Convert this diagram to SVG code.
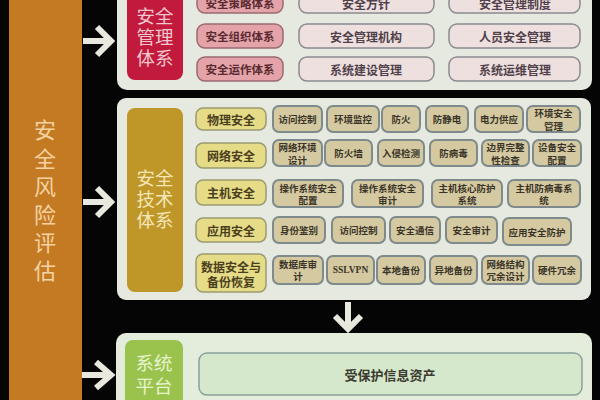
<svg xmlns="http://www.w3.org/2000/svg" width="600" height="400" viewBox="0 0 600 400">
<style>
text{font-family:"Noto Sans CJK SC","Liberation Sans",sans-serif;text-anchor:middle;dominant-baseline:central}
.panel{fill:#e6e9df}
.big{font-size:18.5px}
.sub{fill:#e3a3a8;stroke:#9a6a70;stroke-width:1.5}
.subt{font-size:11.5px;font-weight:bold;fill:#5a2a30}
.rbox{fill:#efe0e0;stroke:#8a8a90;stroke-width:1.5}
.rt{font-size:12px;font-weight:bold;fill:#50404a}
.cat{fill:#e6db86;stroke:#9a9a70;stroke-width:1.5}
.ct{font-size:12px;font-weight:bold;fill:#4a4020}
.it{fill:#d4c9a0;stroke:#7e8a8c;stroke-width:2}
.itt{font-size:9.5px;font-weight:bold;fill:#3a3428}
.arr{fill:none;stroke:#e8e8de;stroke-width:6;stroke-linecap:butt;stroke-linejoin:miter}
</style>
<rect x="0" y="0" width="600" height="400" fill="#050505"/>

<g id="risk">
<rect x="9" y="-5" width="73" height="410" fill="#c47a22"/>
<text x="45" y="119" style="writing-mode:vertical-rl;text-anchor:start;font-size:22px;letter-spacing:6.2px;fill:#f4d2a2">安全风险评估</text>
</g>

<g id="management">
<rect class="panel" x="117" y="-15" width="475" height="105" rx="10"/>
<rect x="127" y="-12" width="56" height="92" rx="8" fill="#c21a3c"/>
<text class="big" fill="#f2c8d0"><tspan x="155" y="15">安全</tspan><tspan x="155" y="36">管理</tspan><tspan x="155" y="57">体系</tspan></text>
<rect class="sub" x="197" y="-6" width="86" height="19" rx="8"/>
<text class="subt" x="240" y="3">安全策略体系</text>
<rect class="sub" x="197" y="24" width="86" height="24" rx="8"/>
<text class="subt" x="240" y="36">安全组织体系</text>
<rect class="sub" x="197" y="57" width="86" height="24" rx="8"/>
<text class="subt" x="240" y="69">安全运作体系</text>
<rect class="rbox" x="299" y="-6" width="135" height="19" rx="8"/>
<text class="rt" x="366" y="3">安全方针</text>
<rect class="rbox" x="449" y="-6" width="131" height="19" rx="8"/>
<text class="rt" x="515" y="3">安全管理制度</text>
<rect class="rbox" x="299" y="24" width="135" height="24" rx="8"/>
<text class="rt" x="366" y="36">安全管理机构</text>
<rect class="rbox" x="449" y="24" width="131" height="24" rx="8"/>
<text class="rt" x="515" y="36">人员安全管理</text>
<rect class="rbox" x="299" y="57" width="135" height="24" rx="8"/>
<text class="rt" x="366" y="69">系统建设管理</text>
<rect class="rbox" x="449" y="57" width="131" height="24" rx="8"/>
<text class="rt" x="515" y="69">系统运维管理</text>
</g>

<g id="technology">
<rect class="panel" x="117" y="98" width="474" height="202" rx="9"/>
<rect x="127" y="108" width="56" height="184" rx="8" fill="#bf9628"/>
<text class="big" fill="#f3e6b8"><tspan x="155" y="177">安全</tspan><tspan x="155" y="198">技术</tspan><tspan x="155" y="219">体系</tspan></text>

<rect class="cat" x="196" y="108" width="70" height="22" rx="7"/>
<text class="ct" x="231" y="119">物理安全</text>
<rect class="cat" x="196" y="143" width="70" height="25" rx="7"/>
<text class="ct" x="231" y="155.5">网络安全</text>
<rect class="cat" x="196" y="180" width="70" height="25" rx="7"/>
<text class="ct" x="231" y="192.5">主机安全</text>
<rect class="cat" x="196" y="218" width="70" height="24" rx="7"/>
<text class="ct" x="231" y="230">应用安全</text>
<rect class="cat" x="196" y="254" width="70" height="38" rx="7"/>
<text class="ct" x="231" y="266">数据安全与</text>
<text class="ct" x="231" y="281">备份恢复</text>

<rect class="it" x="273" y="106" width="49" height="26" rx="6"/><text class="itt" x="297.5" y="119">访问控制</text>
<rect class="it" x="327" y="106" width="52" height="26" rx="6"/><text class="itt" x="353" y="119">环境监控</text>
<rect class="it" x="382" y="106" width="38" height="26" rx="6"/><text class="itt" x="401" y="119">防火</text>
<rect class="it" x="426" y="106" width="42" height="26" rx="6"/><text class="itt" x="447" y="119">防静电</text>
<rect class="it" x="475" y="106" width="48" height="26" rx="6"/><text class="itt" x="499" y="119">电力供应</text>
<rect class="it" x="527" y="106" width="53" height="26" rx="6"/><text class="itt" x="553.5" y="113">环境安全</text><text class="itt" x="553.5" y="125.5">管理</text>

<rect class="it" x="273" y="140" width="49" height="26" rx="6"/><text class="itt" x="297.5" y="147">网络环境</text><text class="itt" x="297.5" y="159.5">设计</text>
<rect class="it" x="325" y="140" width="47" height="26" rx="6"/><text class="itt" x="348.5" y="153">防火墙</text>
<rect class="it" x="378" y="140" width="46" height="26" rx="6"/><text class="itt" x="401" y="153">入侵检测</text>
<rect class="it" x="430" y="140" width="47" height="26" rx="6"/><text class="itt" x="453.5" y="153">防病毒</text>
<rect class="it" x="482" y="140" width="47" height="26" rx="6"/><text class="itt" x="505.5" y="147">边界完整</text><text class="itt" x="505.5" y="159.5">性检查</text>
<rect class="it" x="533" y="140" width="48" height="26" rx="6"/><text class="itt" x="557" y="147">设备安全</text><text class="itt" x="557" y="159.5">配置</text>

<rect class="it" x="273" y="180" width="70" height="27" rx="6"/><text class="itt" x="308" y="187.5">操作系统安全</text><text class="itt" x="308" y="200">配置</text>
<rect class="it" x="352" y="180" width="71" height="27" rx="6"/><text class="itt" x="387.5" y="187.5">操作系统安全</text><text class="itt" x="387.5" y="200">审计</text>
<rect class="it" x="432" y="180" width="70" height="27" rx="6"/><text class="itt" x="467" y="187.5">主机核心防护</text><text class="itt" x="467" y="200">系统</text>
<rect class="it" x="508" y="180" width="72" height="27" rx="6"/><text class="itt" x="544" y="187.5">主机防病毒系</text><text class="itt" x="544" y="200">统</text>

<rect class="it" x="273" y="217" width="52" height="26" rx="6"/><text class="itt" x="299" y="230">身份鉴别</text>
<rect class="it" x="332" y="217" width="53" height="26" rx="6"/><text class="itt" x="358.5" y="230">访问控制</text>
<rect class="it" x="390" y="217" width="50" height="26" rx="6"/><text class="itt" x="415" y="230">安全通信</text>
<rect class="it" x="446" y="217" width="51" height="26" rx="6"/><text class="itt" x="471.5" y="230">安全审计</text>
<rect class="it" x="503" y="218" width="68" height="27" rx="6"/><text class="itt" x="537" y="231.5">应用安全防护</text>

<rect class="it" x="273" y="256" width="50" height="28" rx="6"/><text class="itt" x="298" y="263.5">数据库审</text><text class="itt" x="298" y="276">计</text>
<rect class="it" x="327" y="256" width="47" height="28" rx="6"/><text class="itt" x="350.5" y="270" style="font-family:'Liberation Serif',serif;font-size:9.5px">SSLVPN</text>
<rect class="it" x="377" y="256" width="48" height="28" rx="6"/><text class="itt" x="401" y="270">本地备份</text>
<rect class="it" x="430" y="256" width="47" height="28" rx="6"/><text class="itt" x="453.5" y="270">异地备份</text>
<rect class="it" x="482" y="256" width="47" height="28" rx="6"/><text class="itt" x="505.5" y="263.5">网络结构</text><text class="itt" x="505.5" y="276">冗余设计</text>
<rect class="it" x="533" y="256" width="48" height="28" rx="6"/><text class="itt" x="557" y="270">硬件冗余</text>
</g>

<g id="platform">
<rect x="116" y="333" width="476" height="80" rx="10" fill="#e4ecdc"/>
<rect x="125" y="340" width="58" height="70" rx="8" fill="#9ac34e"/>
<text class="big" fill="#e8f4d0"><tspan x="154" y="362">系统</tspan><tspan x="154" y="385">平台</tspan></text>
<rect x="199" y="353" width="383" height="42" rx="8" fill="#d6e8cc" stroke="#8aa09a" stroke-width="1.5"/>
<text x="390" y="374" style="font-size:13px;font-weight:bold;fill:#3a3a30">受保护信息资产</text>
</g>

<g id="connectors">
<path class="arr" d="M83 41 H110 M97 27 L111 41 L97 55"/>
<path class="arr" d="M83 202 H110 M97 188 L111 202 L97 216"/>
<path class="arr" d="M82 375 H110 M96 362 L111 375 L96 388"/>
<path class="arr" d="M348 302 V326 M335 316 L348 329 L361 316"/>
</g>
</svg>
